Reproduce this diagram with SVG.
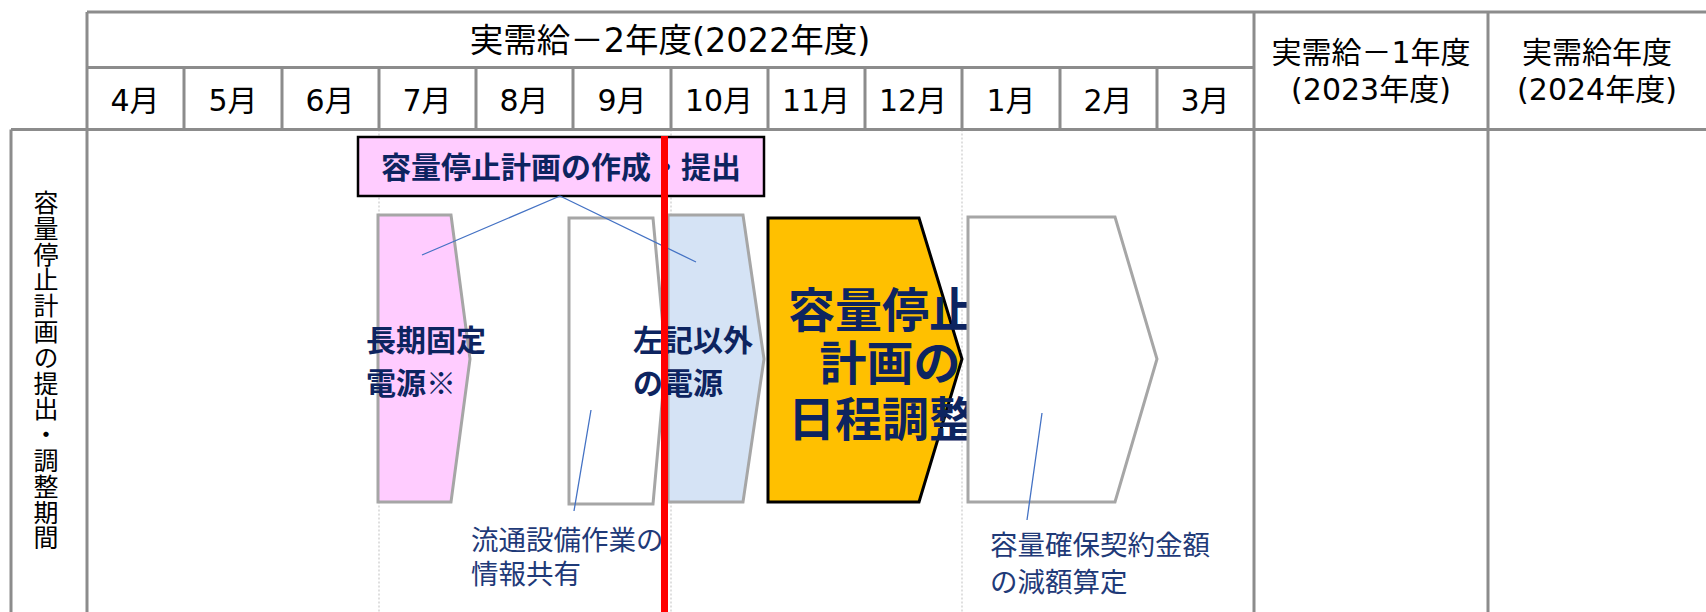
<svg xmlns="http://www.w3.org/2000/svg" width="1706" height="612" viewBox="0 0 1706 612">
<style>
.grid{stroke:#8c8c8c;stroke-width:3;fill:none}
.dot{stroke:#bfbfbf;stroke-width:1;stroke-dasharray:2 2;fill:none}
.hdr{font-family:"DejaVu Sans","Noto Sans CJK JP",sans-serif;font-size:30px;fill:#000;text-anchor:middle;dominant-baseline:central}
.bold{font-family:"Noto Sans CJK JP","Noto Sans",sans-serif;font-weight:bold;fill:#0d2460}
.note{font-family:"Noto Sans CJK JP","Noto Sans",sans-serif;font-size:27.5px;fill:#1f3a78}
.call{stroke:#4472c4;stroke-width:1.3;fill:none}
.arrow{stroke:#a6a6a6;stroke-width:3}
</style>
<rect width="1706" height="612" fill="#fff"/>
<g id="table">
<path class="dot" d="M379 129.5V612M671 129.5V612M962 129.5V612"/>
<path class="grid" d="M87 12H1706M87 67.5H1254M11 129.5H1706M87 12V612M1254 12V612M1488 12V612M11 129.5V612"/>
<path class="grid" d="M184 67.5V129.5M282 67.5V129.5M379 67.5V129.5M476 67.5V129.5M573 67.5V129.5M671 67.5V129.5M768 67.5V129.5M865 67.5V129.5M962 67.5V129.5M1060 67.5V129.5M1157 67.5V129.5"/>
<text class="hdr" x="670" y="40" style="font-size:33.5px">実需給－2年度(2022年度)</text>
<text class="hdr" x="135" y="100">4月</text>
<text class="hdr" x="233" y="100">5月</text>
<text class="hdr" x="330" y="100">6月</text>
<text class="hdr" x="427" y="100">7月</text>
<text class="hdr" x="524" y="100">8月</text>
<text class="hdr" x="622" y="100">9月</text>
<text class="hdr" x="719" y="100">10月</text>
<text class="hdr" x="816" y="100">11月</text>
<text class="hdr" x="913" y="100">12月</text>
<text class="hdr" x="1011" y="100">1月</text>
<text class="hdr" x="1108" y="100">2月</text>
<text class="hdr" x="1205" y="100">3月</text>
<text class="hdr" x="1371" y="52">実需給－1年度</text>
<text class="hdr" x="1371" y="89">(2023年度)</text>
<text class="hdr" x="1597" y="52">実需給年度</text>
<text class="hdr" x="1597" y="89">(2024年度)</text>
<text x="46" y="190" style="font-family:'Noto Sans CJK JP',sans-serif;font-size:25px;fill:#000;writing-mode:vertical-rl;text-orientation:upright;letter-spacing:0.8px">容量停止計画の提出・調整期間</text>
</g>
<g id="node-long-term">
<path d="M378 215H451L470 359L451 502H378Z" fill="#ffccff" class="arrow"/>
<text class="bold" font-size="30" x="366" y="351">長期固定</text>
<text class="bold" font-size="30" x="366" y="394">電源※</text>
</g>
<g id="node-network">
<path d="M569 218H653L666 359L653 504H569Z" fill="#fff" class="arrow"/>
</g>
<g id="node-other">
<path d="M668 215H743L764 359L743 502H668Z" fill="#d5e3f5" class="arrow"/>
<text class="bold" font-size="30" x="633" y="351">左記以外</text>
<text class="bold" font-size="30" x="633" y="394">の電源</text>
</g>
<g id="node-schedule">
<path d="M768 218H919L962 359L919 502H768Z" fill="#ffc000" stroke="#000" stroke-width="3"/>
<text class="bold" font-size="47" x="882" y="327" text-anchor="middle">容量停止</text>
<text class="bold" font-size="47" x="890" y="380" text-anchor="middle">計画の</text>
<text class="bold" font-size="47" x="882" y="436" text-anchor="middle">日程調整</text>
</g>
<g id="node-reduction">
<path d="M968 217H1115L1157 359L1115 502H968Z" fill="#fff" class="arrow"/>
</g>
<g id="node-plan">
<rect x="358" y="137" width="406" height="59" fill="#ffccff" stroke="#000" stroke-width="2.5"/>
<text class="bold" font-size="30" x="561" y="178" text-anchor="middle">容量停止計画の作成・提出</text>
</g>
<g id="connectors">
<path class="call" d="M560 196L422 255M560 196L696 262M591 410L574 511M1042 413L1027 520"/>
</g>
<g id="labels">
<text class="note" x="471" y="550">流通設備作業の</text>
<text class="note" x="471" y="584">情報共有</text>
<text class="note" x="990" y="555">容量確保契約金額</text>
<text class="note" x="990" y="592">の減額算定</text>
</g>
<rect id="red-line" x="661" y="136" width="7" height="476" fill="#ff0000"/>
</svg>
